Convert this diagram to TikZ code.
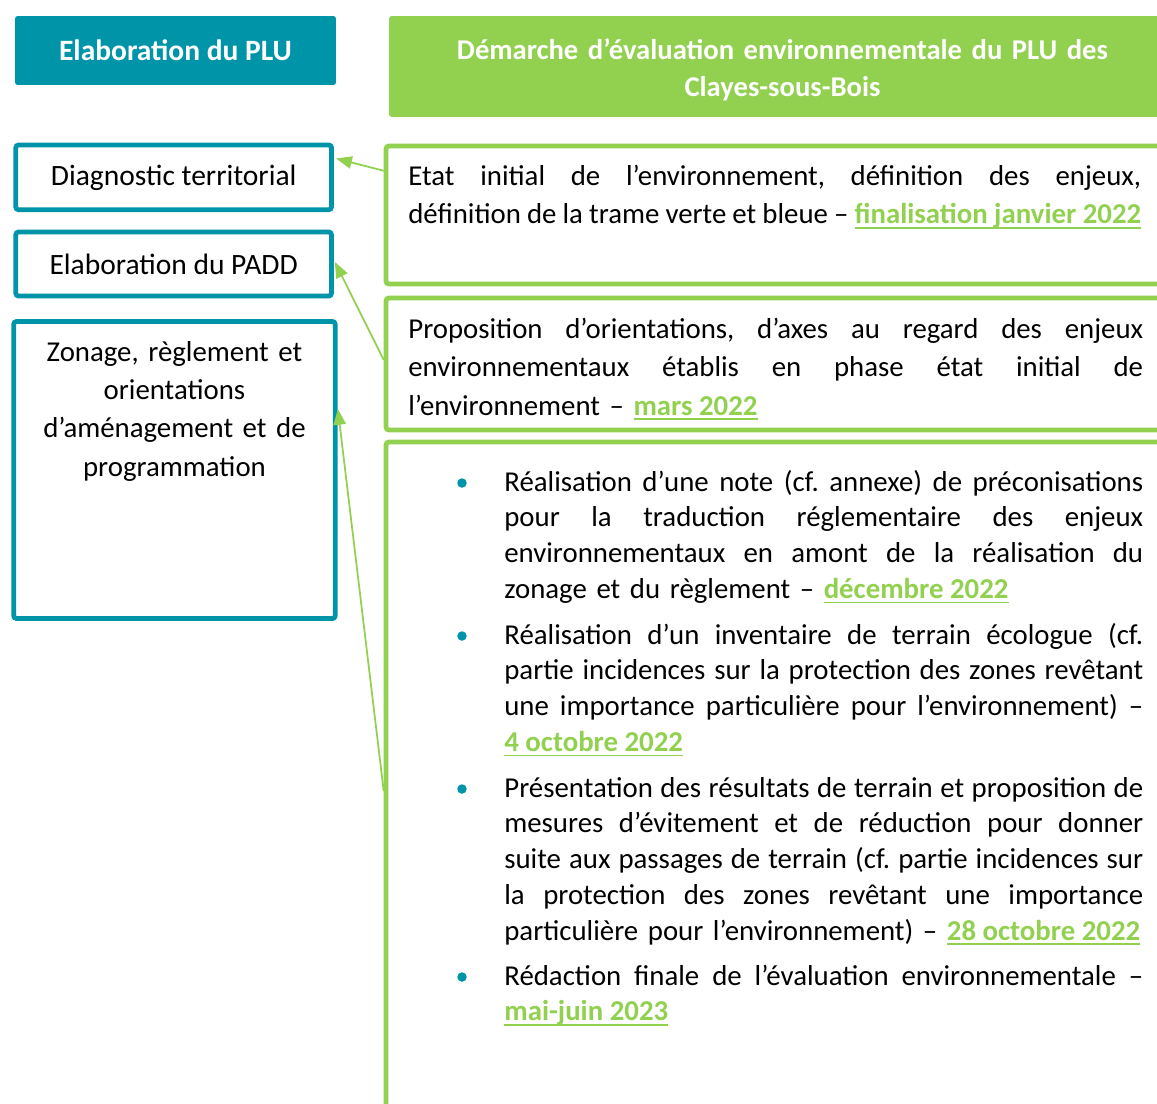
\documentclass[tikz,border=0pt]{standalone}
\usepackage{fontspec}
\setmainfont{Carlito}
\usetikzlibrary{arrows.meta,calc}
\tikzset{>={Triangle[length=9pt,width=7pt]}}
\definecolor{pluteal}{HTML}{0094A8}
\definecolor{evegreen}{HTML}{92D050}
% ligne justifiee, largeur donnee
\newcommand\jl[2][12.78cm]{\makebox[#1][s]{\spaceskip=0pt plus 1fil\relax
    \xspaceskip=0pt plus 1fil\relax #2}}
\newcommand\jalon[1]{\leavevmode{\color{evegreen}\bfseries
    \setbox0=\hbox{\spaceskip=0pt\relax\xspaceskip=0pt\relax #1}%
    \rlap{\rule[-2.8pt]{\wd0}{1.1pt}}\box0}}
\frenchspacing

\begin{document}
\begin{tikzpicture}[x=0.02cm,y=-0.02cm,
head/.style = {
    fill=#1,%color
    rounded corners=1.5pt, text=white, inner sep=0pt,
    font=\bfseries\fontsize{16.8}{21.6}\selectfont,
              },
stage/.style = {
    draw=pluteal, line width=2.7pt, rounded corners=1.5pt,
    inner sep=0pt, minimum width=6.314cm,
    font=\fontsize{16.8}{21.9}\selectfont,
               },
phase/.style = {
    draw=evegreen, line width=2.7pt, rounded corners=1.5pt,
    minimum width=15.8cm,
               },
txt/.style = {
    inner sep=0pt, anchor=base west, text width=#1,
    font=\fontsize{16.4}{22}\selectfont,
             },
itm/.style = {
    txt=12.78cm, font=\fontsize{16.4}{20.4}\selectfont,
             },
dot/.style = {circle, fill=pluteal, inner sep=0pt, minimum size=5.4pt},
link/.style = {->, draw=evegreen, line width=1pt, shorten >=1.3pt},
                    ]
\useasboundingbox (0,0) rectangle (1157,1103);
% en-tetes
\node[head=pluteal, minimum width=6.42cm, minimum height=1.38cm]
    (plu) at (175.5,50.5) {Elaboration du PLU};
\node[head=evegreen, minimum width=15.74cm, minimum height=2.02cm]
    (demarche) at (782.5,66.5) {};
\node[anchor=base, inner sep=0pt, text width=15cm, align=center, text=white,
      font=\bfseries\fontsize{16.3}{21.6}\selectfont]
    (demarchelbl) at (782.5,59)
    {Démarche d’évaluation environnementale du PLU des\\Clayes-sous-Bois};
% etapes du PLU
\node[stage, minimum height=1.294cm] (diag) at (173.65,177.35)
    {Diagnostic territorial};
\node[stage, minimum height=1.28cm] (padd) at (173.65,264)
    {Elaboration du PADD};
\node[stage, minimum width=6.43cm, minimum height=5.94cm] (zonage)
    at (174.45,470) {};
\node[anchor=base, inner sep=0pt, text width=6.2cm, align=center,
      font=\fontsize{16.4}{21.9}\selectfont] (zonagelbl) at (174.45,361)
    {Zonage, règlement et\\orientations\\d’aménagement et de\\programmation};
% evaluation environnementale
\node[phase, minimum height=2.76cm] (eie) at (781,215) {};
\node[phase, minimum height=2.64cm] (orient) at (781,364) {};
\node[phase, minimum height=13.96cm] (regl) at (781,791) {};
\node[txt=14.66cm] (eietxt) at (408,185)
    {\jl[14.66cm]{Etat initial de l’environnement, définition des enjeux,}\newline
     \jl[14.66cm]{définition de la trame verte et bleue – \jalon{finalisation janvier 2022}}};
\node[txt=14.7cm] (orienttxt) at (408,338)
    {\jl[14.7cm]{Proposition d’orientations, d’axes au regard des enjeux}\newline
     \jl[14.7cm]{environnementaux établis en phase état initial de}\newline
     l’environnement – \jalon{mars 2022}};
\node[dot] (dot1) at (462,483) {};
\node[itm] (item1) at (504,491)
    {\jl{Réalisation d’une note (cf. annexe) de préconisations}\newline
     \jl{pour la traduction réglementaire des enjeux}\newline
     \jl{environnementaux en amont de la réalisation du}\newline
     zonage et du règlement – \jalon{décembre 2022}};
\node[dot] (dot2) at (462,636) {};
\node[itm] (item2) at (504,644)
    {\jl{Réalisation d’un inventaire de terrain écologue (cf.}\newline
     \jl{partie incidences sur la protection des zones revêtant}\newline
     \jl{une importance particulière pour l’environnement) –}\newline
     \jalon{4 octobre 2022}};
\node[dot] (dot3) at (462,789) {};
\node[itm] (item3) at (504,797)
    {\jl{Présentation des résultats de terrain et proposition de}\newline
     \jl{mesures d’évitement et de réduction pour donner}\newline
     \jl{suite aux passages de terrain (cf. partie incidences sur}\newline
     \jl{la protection des zones revêtant une importance}\newline
     particulière pour l’environnement) – \jalon{28 octobre 2022}};
\node[dot] (dot4) at (462,977) {};
\node[itm] (item4) at (504,985)
    {\jl{Rédaction finale de l’évaluation environnementale –}\newline
     \jalon{mai-juin 2023}};
% liens
\draw[link] ($(eie.north west)!0.19!(eie.south west)$)
         -- ($(diag.north east)!0.22!(diag.south east)$);
\draw[link] ($(orient.north west)!0.47!(orient.south west)$)
         -- ($(padd.north east)!0.44!(padd.south east)$);
\draw[link] (regl.west)
         -- ($(zonage.north east)!0.29!(zonage.south east)$);
\end{tikzpicture}
\end{document}
